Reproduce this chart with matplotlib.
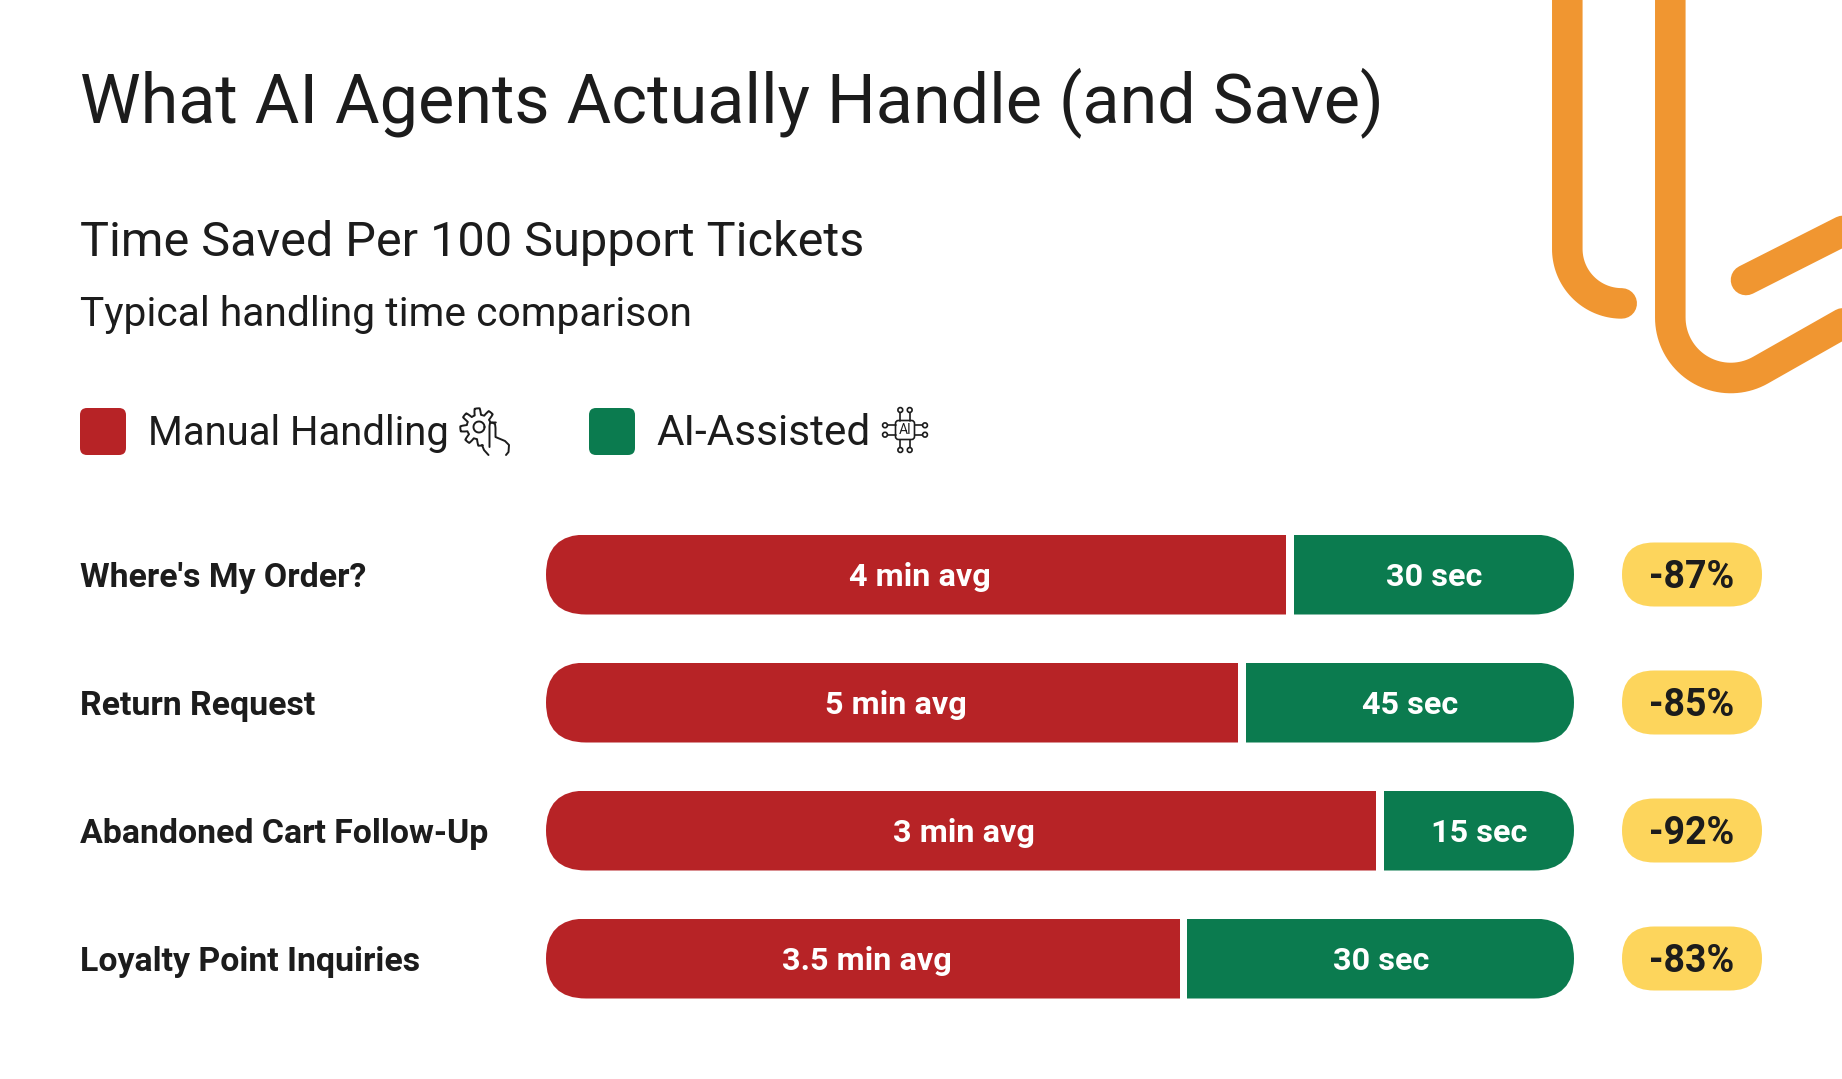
import numpy as np
import matplotlib
matplotlib.use('Agg')
import matplotlib.pyplot as plt
from matplotlib.patches import FancyBboxPatch, Circle

W, H = 1842, 1079

categories = ["Where's My Order?", "Return Request", "Abandoned Cart Follow-Up", "Loyalty Point Inquiries"]
manual_share = [72.0, 67.3, 80.7, 61.7]
ai_share = [27.2, 31.9, 18.5, 37.6]
manual_labels = ["4 min avg", "5 min avg", "3 min avg", "3.5 min avg"]
ai_labels = ["30 sec", "45 sec", "15 sec", "30 sec"]
savings = ["-87%", "-85%", "-92%", "-83%"]

RED = '#B72326'
GREEN = '#0B7B4F'
YELLOW = '#FDD55C'
ORANGE = '#F09631'
INK = '#1C1C1C'

plt.rcParams['font.family'] = ['Roboto', 'DejaVu Sans']

fig = plt.figure(figsize=(W / 100, H / 100), dpi=100, facecolor='white')

# whole figure in pixels, y down, for the text and decoration
bg = fig.add_axes([0, 0, 1, 1])
bg.set_xlim(0, W)
bg.set_ylim(H, 0)
bg.axis('off')


def arc(cx, cy, r, a1, a2):
    t = np.radians(np.linspace(a1, a2, 40))
    return cx + r * np.cos(t), cy + r * np.sin(t)


def stroke(xs, ys, lw=1.4, color=INK):
    bg.plot(xs, ys, color=color, lw=lw, solid_capstyle='round', solid_joinstyle='round')


# orange ribbons, top right
deco = 22
ax1, ay1 = arc(1621.7, 249, 54.4, 180, 90)
stroke(np.r_[1567.3, ax1], np.r_[-20, ay1], deco, ORANGE)
ax2, ay2 = arc(1730.7, 317.6, 60.4, 180, 60.5)
stroke(np.r_[1670.3, ax2, 1900], np.r_[-20, ay2, 291], deco, ORANGE)
stroke([1746, 1900], [280, 202], deco, ORANGE)

# header
bg.text(80, 122, "What AI Agents Actually Handle (and Save)", fontsize=49.2, color=INK, va='baseline')
bg.text(80, 256, "Time Saved Per 100 Support Tickets", fontsize=35, color=INK, va='baseline')
bg.text(80, 326, "Typical handling time comparison", fontsize=29.3, color=INK, va='baseline')

# legend
for x, c in [(80, RED), (589, GREEN)]:
    bg.add_patch(FancyBboxPatch((x, 408), 46, 47, boxstyle='round,pad=0,rounding_size=7', fc=c, ec='none'))
bg.text(148, 445, "Manual Handling", fontsize=28.8, color=INK, va='baseline')
bg.text(656, 445, "AI-Assisted", fontsize=30.4, color=INK, va='baseline')

# gear and hand icon
gx, gy = 479, 427
t = np.radians(np.linspace(78, 345, 400))
r = 15.5 + 3.2 * np.clip(2.2 * np.cos(8 * (t + 0.1)), -1, 1)
stroke(gx + r * np.cos(t), gy + r * np.sin(t))
xs, ys = arc(gx, gy, 5.5, 0, 360)
stroke(xs, ys)
hand_x = [489.5, 489.5, 490, 492, 495, 495.5, 495.5, 505, 509, 508.5, 506]
hand_y = [447, 426, 423, 422.5, 424, 428, 437, 441, 445, 452, 455]
stroke(hand_x, hand_y)
stroke([482, 484, 488.5], [445, 450, 455])

# chip icon
cx, cy = 905, 430
bg.add_patch(FancyBboxPatch((cx - 9.5, cy - 9.5), 19, 19, boxstyle='round,pad=0,rounding_size=3',
                            fc='none', ec=INK, lw=1.2))
bg.text(cx, cy + 0.5, "AI", fontsize=10, color=INK, ha='center', va='center')
for d in (-4.7, 4.7):
    stroke([cx + d, cx + d], [cy - 9.5, cy - 17], 1.2)
    stroke([cx + d, cx + d], [cy + 9.5, cy + 17], 1.2)
    stroke([cx - 9.5, cx - 17], [cy + d, cy + d], 1.2)
    stroke([cx + 9.5, cx + 17], [cy + d, cy + d], 1.2)
    for px, py in [(cx + d, cy - 20), (cx + d, cy + 20), (cx - 20, cy + d), (cx + 20, cy + d)]:
        bg.add_patch(Circle((px, py), 2.4, fc='none', ec=INK, lw=1.2))

# bars
rows = np.arange(len(categories))
row_top = 574.5 - 64
row_bottom = 958.5 + 64
ax = fig.add_axes([546 / W, 1 - row_bottom / H, (1574 - 546) / W, (row_bottom - row_top) / H])
ax.set_xlim(0, 100)
ax.set_ylim(3.5, -0.5)
ax.patch.set_alpha(0)
for s in ax.spines.values():
    s.set_visible(False)
ax.xaxis.set_visible(False)
ax.set_yticks(rows, categories, fontsize=24.4, fontweight='bold', color=INK, ha='left')
ax.tick_params(axis='y', length=0, pad=(546 - 80) * 0.72)

red_bars = ax.barh(rows, manual_share, height=0.625, color=RED)
green_left = [100 - v for v in ai_share]
green_bars = ax.barh(rows, ai_share, left=green_left, height=0.625, color=GREEN)

for i in rows:
    yc = 574.5 + 128 * i
    pill = FancyBboxPatch((546, yc - 40), 1028, 80, boxstyle='round,pad=0,rounding_size=40',
                          transform=bg.transData)
    red_bars[i].set_clip_path(pill)
    green_bars[i].set_clip_path(pill)
    ax.text(manual_share[i] / 2 + 0.35, i + 12 / 128, manual_labels[i], color='white', fontsize=23.3,
            fontweight='semibold', ha='center', va='baseline')
    ax.text(green_left[i] + ai_share[i] / 2, i + 12 / 128, ai_labels[i], color='white', fontsize=23.3,
            fontweight='semibold', ha='center', va='baseline')
    bg.add_patch(FancyBboxPatch((1622, yc - 32), 140, 64, boxstyle='round,pad=0,rounding_size=32',
                                fc=YELLOW, ec='none'))
    bg.text(1692, yc + 13.5, savings[i], color=INK, fontsize=27, fontweight='semibold', ha='center', va='baseline')

fig.savefig('out.png', dpi=100)
